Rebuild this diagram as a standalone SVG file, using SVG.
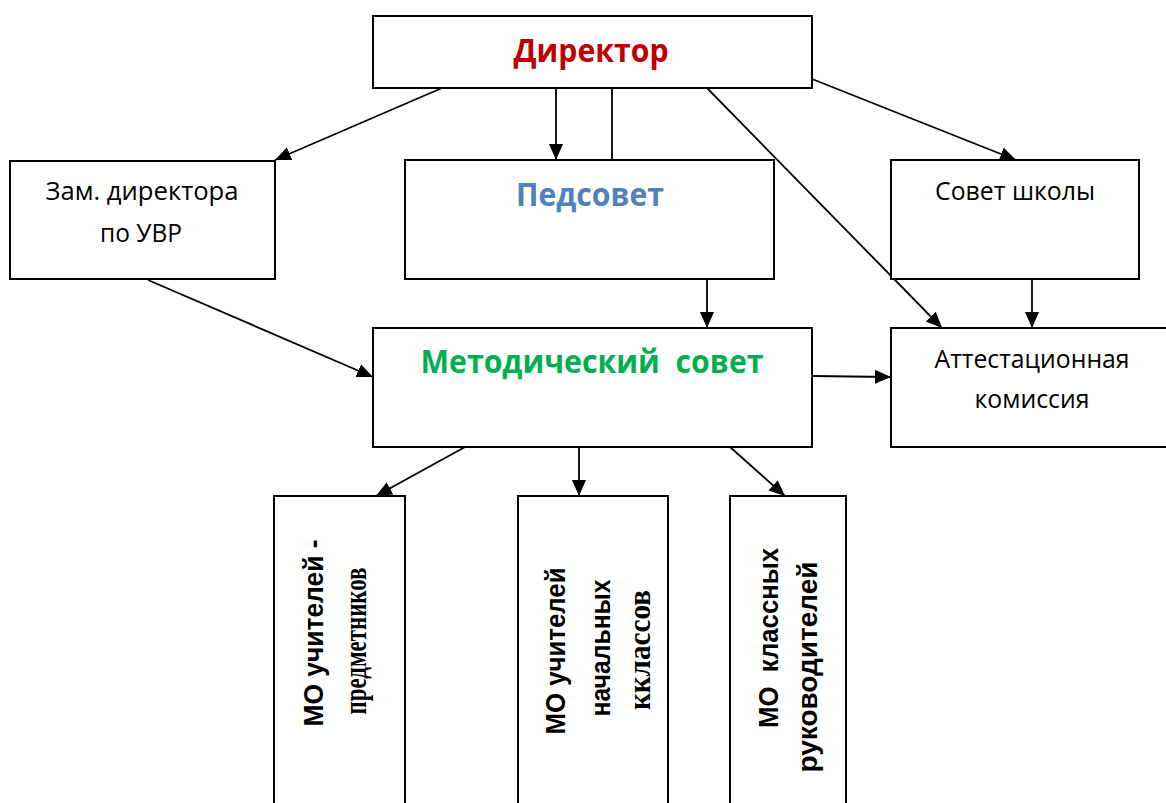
<svg xmlns="http://www.w3.org/2000/svg" width="1166" height="803" viewBox="0 0 1166 803">
<style>
.box{fill:#fff;stroke:#000;stroke-width:2}
.t{font-family:"Open Sans","Noto Sans",sans-serif;font-size:26px;fill:#000;text-anchor:middle}
.tb{font-family:"Open Sans","Noto Sans",sans-serif;font-size:33px;font-weight:bold;text-anchor:middle}
.va{font-family:"Liberation Sans",Arial,sans-serif;font-size:28px;font-weight:bold;fill:#000;text-anchor:middle}
.vs{font-family:"Liberation Serif","Times New Roman",serif;font-size:31px;font-weight:bold;fill:#000;text-anchor:middle}
.c{fill:none;stroke:#000;stroke-width:1.8}
</style>
<defs>
<marker id="ah" markerUnits="userSpaceOnUse" markerWidth="17" markerHeight="15" refX="16" refY="7" orient="auto">
<path d="M0,0 L16,7 L0,14 Z" fill="#000"/>
</marker>
</defs>
<rect width="1166" height="803" fill="#fff"/>
<g id="connectors">
<path class="c" d="M442,88 L275,160" marker-end="url(#ah)"/>
<path class="c" d="M556,88 L556,160" marker-end="url(#ah)"/>
<path class="c" d="M612,88 L612,160"/>
<path class="c" d="M707,88 L942,328" marker-end="url(#ah)"/>
<path class="c" d="M812,79 L1016,160" marker-end="url(#ah)"/>
<path class="c" d="M148,280 L373,377" marker-end="url(#ah)"/>
<path class="c" d="M707,279 L707,328" marker-end="url(#ah)"/>
<path class="c" d="M1032,279 L1032,328" marker-end="url(#ah)"/>
<path class="c" d="M812,376 L891,377" marker-end="url(#ah)"/>
<path class="c" d="M465,447 L376,496" marker-end="url(#ah)"/>
<path class="c" d="M579,447 L579,496" marker-end="url(#ah)"/>
<path class="c" d="M730,447 L785,496" marker-end="url(#ah)"/>
</g>
<g id="director">
<rect class="box" x="373" y="16" width="439" height="72"/>
<text class="tb" x="591" y="62" fill="#c00000" textLength="155" lengthAdjust="spacingAndGlyphs">Директор</text>
</g>
<g id="zam">
<rect class="box" x="10" y="161" width="265" height="118"/>
<text class="t" x="142" y="200" textLength="193" lengthAdjust="spacingAndGlyphs">Зам. директора</text>
<text class="t" x="141" y="242" textLength="82" lengthAdjust="spacingAndGlyphs">по УВР</text>
</g>
<g id="pedsovet">
<rect class="box" x="405" y="160" width="369" height="119"/>
<text class="tb" x="590" y="206" fill="#4f81bd" textLength="148" lengthAdjust="spacingAndGlyphs">Педсовет</text>
</g>
<g id="sovet">
<rect class="box" x="891" y="160" width="248" height="119"/>
<text class="t" x="1015" y="200" textLength="160" lengthAdjust="spacingAndGlyphs">Совет школы</text>
</g>
<g id="metod">
<rect class="box" x="373" y="328" width="439" height="119"/>
<text class="tb" x="592" y="373" fill="#00b050" textLength="343" lengthAdjust="spacingAndGlyphs" xml:space="preserve">Методический  совет</text>
</g>
<g id="attest">
<rect class="box" x="891" y="328" width="290" height="119"/>
<text class="t" x="1032" y="368" textLength="195" lengthAdjust="spacingAndGlyphs">Аттестационная</text>
<text class="t" x="1032" y="408" textLength="115" lengthAdjust="spacingAndGlyphs">комиссия</text>
</g>
<g id="mo1">
<rect class="box" x="274" y="496" width="131" height="330"/>
<text class="va" transform="translate(323,633) rotate(-90)" textLength="187" lengthAdjust="spacingAndGlyphs">МО учителей -</text>
<text class="vs" transform="translate(366,641) rotate(-90)" textLength="147" lengthAdjust="spacingAndGlyphs">предметников</text>
</g>
<g id="mo2">
<rect class="box" x="518" y="496" width="150" height="330"/>
<text class="va" transform="translate(565,651) rotate(-90)" textLength="167" lengthAdjust="spacingAndGlyphs">МО учителей</text>
<text class="va" transform="translate(610,648) rotate(-90)" textLength="137" lengthAdjust="spacingAndGlyphs">начальных</text>
<text class="vs" transform="translate(650,650) rotate(-90)" textLength="120" lengthAdjust="spacingAndGlyphs">кклассов</text>
</g>
<g id="mo3">
<rect class="box" x="730" y="496" width="116" height="330"/>
<text class="va" transform="translate(778,638) rotate(-90)" textLength="180" lengthAdjust="spacingAndGlyphs" xml:space="preserve">МО  классных</text>
<text class="va" transform="translate(817,667) rotate(-90)" textLength="211" lengthAdjust="spacingAndGlyphs">руководителей</text>
</g>
</svg>
